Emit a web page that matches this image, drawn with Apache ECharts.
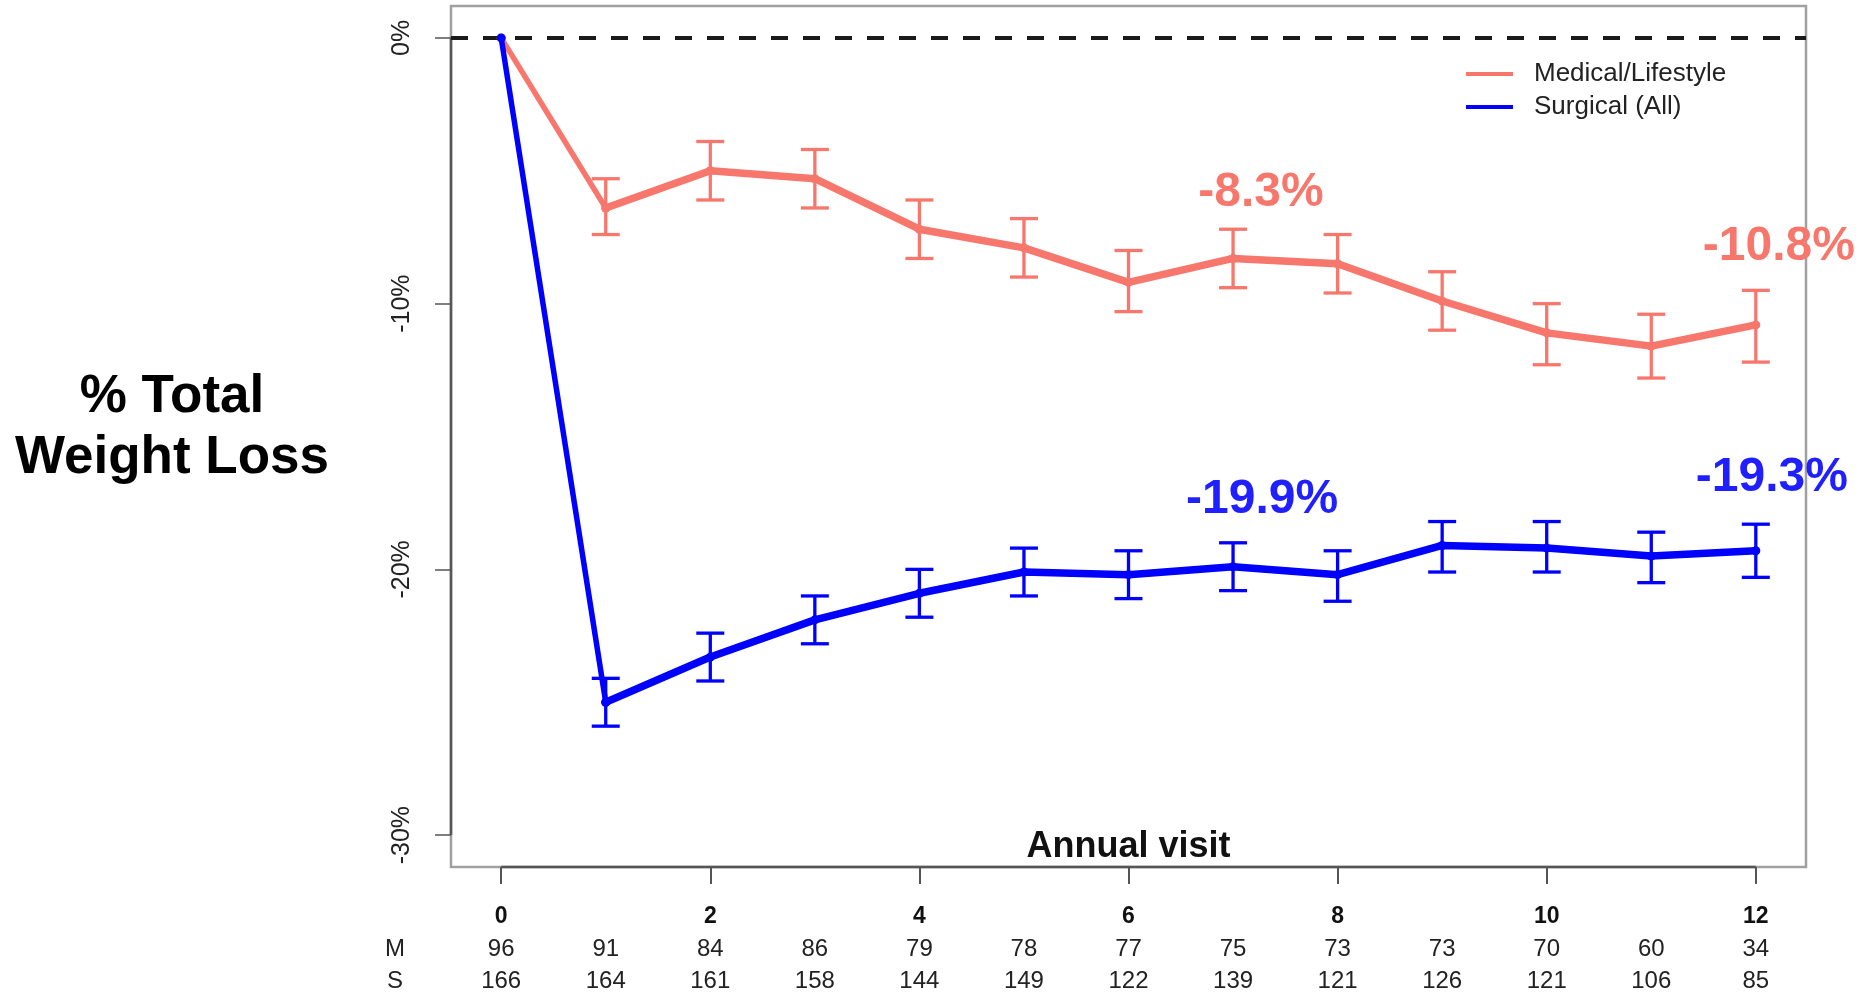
<!DOCTYPE html>
<html>
<head>
<meta charset="utf-8">
<title>% Total Weight Loss by Annual Visit</title>
<script src="https://cdn.jsdelivr.net/npm/echarts@6/dist/echarts.min.js"></script>
<style>
  html, body { margin: 0; padding: 0; background: #fff; }
  #chart { width: 1862px; height: 999px; }
</style>
</head>
<body>
<div id="chart"></div>
<script>
// Annual visit number (years since baseline)
const visits = [0, 1, 2, 3, 4, 5, 6, 7, 8, 9, 10, 11, 12];

// Medical/Lifestyle group: mean % total weight loss with error bar bounds
const medicalPct  = [0, -6.4, -5.0, -5.3, -7.2, -7.9, -9.2, -8.3, -8.5, -9.9, -11.1, -11.6, -10.8];
const medicalLow  = [null, -7.4, -6.1, -6.4, -8.3, -9.0, -10.3, -9.4, -9.6, -11.0, -12.3, -12.8, -12.2];
const medicalHigh = [null, -5.3, -3.9, -4.2, -6.1, -6.8, -8.0, -7.2, -7.4, -8.8, -10.0, -10.4, -9.5];

// Surgical (All) group
const surgicalPct  = [0, -25.0, -23.3, -21.9, -20.9, -20.1, -20.2, -19.9, -20.2, -19.1, -19.2, -19.5, -19.3];
const surgicalLow  = [null, -25.9, -24.2, -22.8, -21.8, -21.0, -21.1, -20.8, -21.2, -20.1, -20.1, -20.5, -20.3];
const surgicalHigh = [null, -24.1, -22.4, -21.0, -20.0, -19.2, -19.3, -19.0, -19.3, -18.2, -18.2, -18.6, -18.3];

// Number of patients at each visit (M = medical, S = surgical)
const medicalN  = [96, 91, 84, 86, 79, 78, 77, 75, 73, 73, 70, 60, 34];
const surgicalN = [166, 164, 161, 158, 144, 149, 122, 139, 121, 126, 121, 106, 85];

// Axis ticks
const xTickValues = [0, 2, 4, 6, 8, 10, 12];
const yTickValues = [0, -10, -20, -30];

const seriesNames = ['Medical/Lifestyle', 'Surgical (All)'];

const COLOR_MED = '#F7776D';
const COLOR_SUR = '#0000FF';
const COLOR_SUR_TEXT = '#1f1fff';
const FONT = "'Liberation Sans', Arial, Helvetica, sans-serif";
const SYMBOL_SIZE = 9;

const chart = echarts.init(document.getElementById('chart'));

// Error bars: vertical whisker with horizontal caps
function errorBarSeries(name, low, high, color) {
  const data = [];
  visits.forEach((v, i) => {
    if (low[i] != null && high[i] != null) data.push([v, low[i], high[i]]);
  });
  return {
    type: 'custom',
    name: name,
    data: data,
    encode: { x: 0, y: [1, 2] },
    itemStyle: { color: color },
    silent: true,
    z: 3,
    renderItem: function (params, api) {
      const x = api.value(0);
      const pLo = api.coord([x, api.value(1)]);
      const pHi = api.coord([x, api.value(2)]);
      const hw = 14;
      const st = { stroke: color, lineWidth: 3.3, lineCap: 'butt' };
      return {
        type: 'group',
        children: [
          { type: 'line', shape: { x1: pLo[0], y1: pLo[1], x2: pHi[0], y2: pHi[1] }, style: st },
          { type: 'line', shape: { x1: pLo[0] - hw, y1: pLo[1], x2: pLo[0] + hw, y2: pLo[1] }, style: st },
          { type: 'line', shape: { x1: pHi[0] - hw, y1: pHi[1], x2: pHi[0] + hw, y2: pHi[1] }, style: st }
        ]
      };
    }
  };
}

// Points from visit 1 on; selected visits carry a value callout
function pointData(values, textColor, callouts) {
  return visits.slice(1).map((v, k) => {
    const i = k + 1;
    const item = { value: [v, values[i]] };
    if (callouts[i]) {
      const off = callouts[i];
      item.label = {
        show: true,
        // position is relative to the symbol's bounding box
        position: [SYMBOL_SIZE / 2 + off[0], SYMBOL_SIZE / 2 + off[1]],
        align: 'center',
        verticalAlign: 'middle',
        formatter: p => p.value[1].toFixed(1) + '%',
        color: textColor,
        fontSize: 48,
        fontWeight: 'bold',
        fontFamily: FONT
      };
    }
    return item;
  });
}

function firstSegment(name, values, color, z) {
  return {
    type: 'line',
    name: name,
    data: [[visits[0], values[0]], [visits[1], values[1]]],
    symbol: 'circle',
    symbolSize: SYMBOL_SIZE,
    showSymbol: true,
    lineStyle: { color: color, width: 5.5 },
    itemStyle: { color: color },
    silent: true,
    z: z
  };
}

function mainLine(name, values, color, textColor, callouts, z) {
  return {
    type: 'line',
    name: name,
    data: pointData(values, textColor, callouts),
    symbol: 'circle',
    symbolSize: SYMBOL_SIZE,
    showSymbol: true,
    lineStyle: { color: color, width: 7.5, join: 'round' },
    itemStyle: { color: color },
    label: { show: false },
    labelLayout: { hideOverlap: false },
    silent: true,
    z: z
  };
}

const xMin = -0.48, xMax = 12.48;
const yMin = -31.2, yMax = 1.2;

const option = {
  backgroundColor: '#ffffff',
  animation: false,
  textStyle: { fontFamily: FONT },
  grid: {
    left: 451, right: 56, top: 6, bottom: 132,
    containLabel: false,
    outerBoundsMode: 'none',
    show: true,
    borderColor: '#a0a0a0',
    borderWidth: 2.5,
    backgroundColor: 'transparent'
  },
  legend: {
    data: seriesNames,
    orient: 'vertical',
    left: 1461,
    top: 55,
    icon: 'rect',
    itemWidth: 47,
    itemHeight: 4,
    itemGap: 5,
    selectedMode: false,
    textStyle: {
      fontFamily: FONT,
      fontSize: 26,
      color: '#222',
      lineHeight: 28,
      padding: [0, 0, 0, 16]
    }
  },
  xAxis: {
    type: 'value',
    min: xMin,
    max: xMax,
    splitLine: { show: false },
    axisLine: { show: false, onZero: false },
    axisTick: {
      show: true,
      customValues: xTickValues,
      length: 17,
      lineStyle: { color: '#555', width: 2 }
    },
    axisLabel: {
      show: true,
      customValues: visits,
      margin: 34,
      formatter: function (v) {
        const i = visits.indexOf(v);
        const head = xTickValues.indexOf(v) >= 0 ? String(v) : ' ';
        return '{b|' + head + '}\n{n|' + medicalN[i] + '}\n{n|' + surgicalN[i] + '}';
      },
      rich: {
        b: { fontSize: 23, fontWeight: 'bold', color: '#111', lineHeight: 32, fontFamily: FONT, align: 'center' },
        n: { fontSize: 24, color: '#222', lineHeight: 32, fontFamily: FONT, align: 'center' }
      }
    }
  },
  yAxis: {
    type: 'value',
    min: yMin,
    max: yMax,
    splitLine: { show: false },
    axisLine: { show: false, onZero: false },
    axisTick: {
      show: true,
      customValues: yTickValues,
      length: 16,
      lineStyle: { color: '#555', width: 1.5 }
    },
    axisLabel: {
      show: true,
      customValues: yTickValues,
      rotate: 90,
      margin: 36,
      formatter: v => v + '%',
      fontSize: 25,
      color: '#222',
      fontFamily: FONT
    }
  },
  graphic: [
    {
      type: 'text', x: 172, y: 397,
      style: { text: '% Total', font: 'bold 53px ' + FONT, fill: '#000', textAlign: 'center', textVerticalAlign: 'middle' }
    },
    {
      type: 'text', x: 172, y: 458,
      style: { text: 'Weight Loss', font: 'bold 53px ' + FONT, fill: '#000', textAlign: 'center', textVerticalAlign: 'middle' }
    },
    {
      type: 'text', x: 1128.5, y: 847,
      style: { text: 'Annual visit', font: 'bold 36px ' + FONT, fill: '#111', textAlign: 'center', textVerticalAlign: 'middle' }
    },
    {
      type: 'text', x: 395, y: 949,
      style: { text: 'M', font: '24px ' + FONT, fill: '#222', textAlign: 'center', textVerticalAlign: 'middle' }
    },
    {
      type: 'text', x: 395, y: 981,
      style: { text: 'S', font: '24px ' + FONT, fill: '#222', textAlign: 'center', textVerticalAlign: 'middle' }
    }
  ],
  series: [
    // darker axis segments spanning the tick range
    {
      type: 'line', data: [[xMin, yTickValues[0]], [xMin, yTickValues[yTickValues.length - 1]]],
      symbol: 'none', clip: false, silent: true, z: 4,
      lineStyle: { color: '#555', width: 2.5 }
    },
    {
      type: 'line', data: [[xTickValues[0], yMin], [xTickValues[xTickValues.length - 1], yMin]],
      symbol: 'none', clip: false, silent: true, z: 4,
      lineStyle: { color: '#555', width: 2.5 }
    },
    // baseline reference at 0%
    {
      type: 'line', data: [], silent: true, z: 2,
      markLine: {
        silent: true,
        symbol: ['none', 'none'],
        label: { show: false },
        lineStyle: { color: '#1a1a1a', width: 4, type: [17, 15] },
        data: [{ yAxis: 0 }]
      }
    },
    errorBarSeries(seriesNames[0], medicalLow, medicalHigh, COLOR_MED),
    firstSegment(seriesNames[0], medicalPct, COLOR_MED, 5),
    mainLine(seriesNames[0], medicalPct, COLOR_MED, COLOR_MED, { 7: [28, -66], 12: [23, -78] }, 5),
    errorBarSeries(seriesNames[1], surgicalLow, surgicalHigh, COLOR_SUR),
    firstSegment(seriesNames[1], surgicalPct, COLOR_SUR, 6),
    mainLine(seriesNames[1], surgicalPct, COLOR_SUR, COLOR_SUR_TEXT, { 7: [29, -67], 12: [16, -73] }, 6)
  ]
};

chart.setOption(option);
</script>
</body>
</html>
